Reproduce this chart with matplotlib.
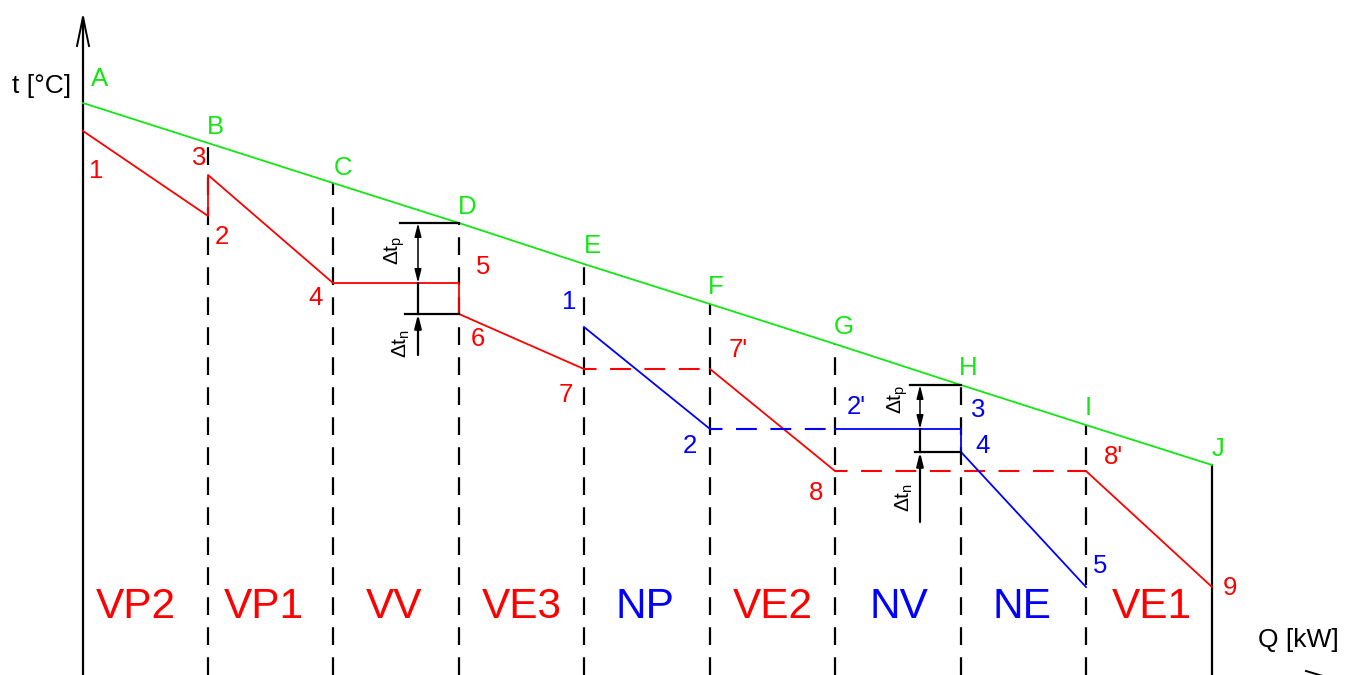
import matplotlib
matplotlib.use("Agg")

import matplotlib.pyplot as plt

plt.rcParams["font.family"] = ["Liberation Sans", "DejaVu Sans"]
plt.rcParams["mathtext.fontset"] = "custom"
plt.rcParams["mathtext.rm"] = "Liberation Sans"

GREEN = "#14e614"
RED = "#ff0000"
BLUE = "#0000ff"

# section boundaries on the Q axis (A .. J) and the heating-medium line over them
q_bounds = [83, 208, 333, 459, 584, 710, 835, 961, 1086, 1212]
bound_names = ["A", "B", "C", "D", "E", "F", "G", "H", "I", "J"]
t_green = [572, 532, 492, 452, 411, 371, 331, 290, 250, 210]

# red stream (solid pieces, then dashed bridges)
red_q = [83, 208, 208, 333, 459, 459, 584]
red_t = [544, 459, 500, 392, 392, 361, 306]
red2_q = [710, 835]
red2_t = [306, 204]
red3_q = [1086, 1212]
red3_t = [204, 88]
red_dash = [(584, 710, 306), (835, 1086, 204)]

# blue stream
blue_q = [584, 710]
blue_t = [348, 246]
blue2_q = [835, 961, 961, 1086]
blue2_t = [246, 246, 223, 88]
blue_dash = [(710, 835, 246)]

sections = ["VP2", "VP1", "VV", "VE3", "NP", "VE2", "NV", "NE", "VE1"]
section_colors = [RED, RED, RED, RED, BLUE, RED, BLUE, BLUE, RED]
section_nudge = [-10, -7, -2, 0, -2, 0, 1, -2, 3]

letter_pos = [(100, 596), (215, 548), (343, 507), (467, 468), (592, 429),
              (716, 388), (844, 348), (968, 307), (1088, 267), (1218, 226)]
red_labels = [("1", 96, 504), ("3", 199, 517), ("2", 222, 438), ("4", 316, 377),
              ("5", 483, 408), ("6", 478, 336), ("7", 566, 280), ("7'", 738, 325),
              ("8", 816, 182), ("8'", 1113, 218), ("9", 1230, 87)]
blue_labels = [("1", 569, 373), ("2", 690, 229), ("2'", 856, 268), ("3", 978, 265),
               ("4", 983, 229), ("5", 1100, 109)]

fig = plt.figure(figsize=(13.46, 6.75), dpi=100)
ax = fig.add_axes([0, 0, 1, 1])
ax.set_xlim(0, 1346)
ax.set_ylim(0, 675)
ax.axis("off")

# t axis with open arrow head
ax.plot([q_bounds[0], q_bounds[0]], [0, 657], color="black", lw=1.6)
ax.plot([77, 83, 89], [629, 658, 629], color="black", lw=1.4)
# Q axis arrow barb just peeking in at the bottom edge
ax.plot([1306, 1346], [4, -8], color="black", lw=1.4)

# dashed section boundaries hang from the green line; the last one is solid
for q, t in zip(q_bounds[1:-1], t_green[1:-1]):
    ax.plot([q, q], [0, t], color="black", lw=1.6, ls=(0, (8, 5.5)))
ax.plot([q_bounds[-1]] * 2, [0, t_green[-1]], color="black", lw=1.6)

ax.plot(q_bounds, t_green, color=GREEN, lw=1.3)

ax.plot(red_q, red_t, color=RED, lw=1.3)
ax.plot(red2_q, red2_t, color=RED, lw=1.3)
ax.plot(red3_q, red3_t, color=RED, lw=1.3)
for q0, q1, t in red_dash:
    ax.plot([q0, q1], [t, t], color=RED, lw=1.5, ls=(4, (10, 6.5)))

ax.plot(blue_q, blue_t, color=BLUE, lw=1.3)
ax.plot(blue2_q, blue2_t, color=BLUE, lw=1.3)
for q0, q1, t in blue_dash:
    ax.plot([q0, q1], [t, t], color=BLUE, lw=1.5, ls=(4, (10, 6.5)))


def delta_marks(qb, x, left, top, mid, bot, tail, lab_p, lab_n):
    # pinch dimensions: Δt_p between hot line and the flat part, Δt_n below it
    ax.plot([left, qb], [top, top], color="black", lw=1.6)
    ax.plot([left + 5, qb], [bot, bot], color="black", lw=1.6)
    ax.annotate("", xy=(x, top), xytext=(x, mid),
                arrowprops=dict(arrowstyle="<|-|>,head_width=0.2,head_length=0.8",
                                color="black", lw=1.1, shrinkA=0, shrinkB=0))
    ax.plot([x, x], [mid, bot], color="black", lw=1.6)
    ax.annotate("", xy=(x, bot), xytext=(x, tail),
                arrowprops=dict(arrowstyle="-|>,head_width=0.2,head_length=0.8",
                                color="black", lw=1.6, shrinkA=0, shrinkB=0))
    ax.text(lab_p[0], lab_p[1], r"$\Delta\mathrm{t}_\mathrm{p}$", rotation=90,
            ha="center", va="center", fontsize=15)
    ax.text(lab_n[0], lab_n[1], r"$\Delta\mathrm{t}_\mathrm{n}$", rotation=90,
            ha="center", va="center", fontsize=15)


delta_marks(q_bounds[3], 418, 400, t_green[3], red_t[4], red_t[5], 320,
            (395, 425), (401, 332))
delta_marks(q_bounds[7], 920, 910, t_green[7], blue2_t[1], blue2_t[2], 153,
            (898, 276), (904, 178))

for name, (x, y) in zip(bound_names, letter_pos):
    ax.text(x, y, name, color=GREEN, fontsize=18.5, ha="center", va="center")
for s, x, y in red_labels:
    ax.text(x, y, s, color=RED, fontsize=18.5, ha="center", va="center")
for s, x, y in blue_labels:
    ax.text(x, y, s, color=BLUE, fontsize=18.5, ha="center", va="center")

for i, (name, c) in enumerate(zip(sections, section_colors)):
    xm = (q_bounds[i] + q_bounds[i + 1]) / 2 + section_nudge[i]
    ax.text(xm, 68, name, color=c, fontsize=30.5, ha="center", va="center")

ax.text(42, 589, "t [°C]", fontsize=19, ha="center", va="center")
ax.text(1298, 35, "Q [kW]", fontsize=19, ha="center", va="center")

fig.savefig("out.png", dpi=100)
